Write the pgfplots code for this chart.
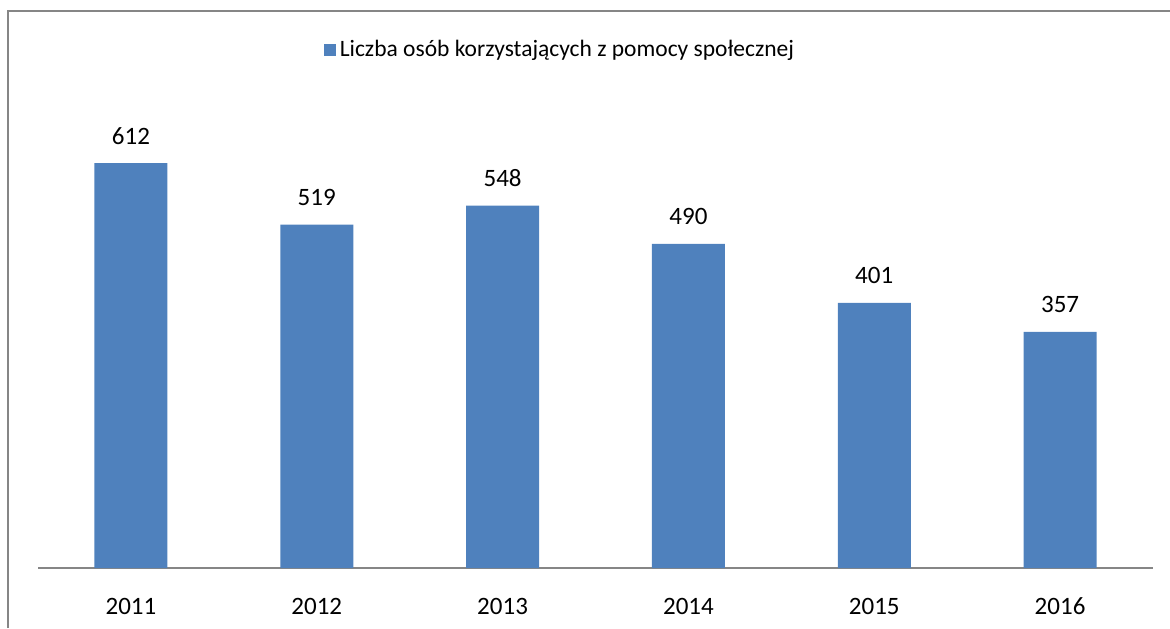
\documentclass[border=0pt]{standalone}
\usepackage{fontspec}
\setmainfont{Carlito}
\usepackage{pgfplots}
\pgfplotsset{compat=1.18}
\definecolor{barblue}{HTML}{4F81BD}
\definecolor{axgray}{HTML}{868686}
\begin{document}
\begin{tikzpicture}
\useasboundingbox (-19pt,-30pt) rectangle (566pt,284pt);
\draw[axgray, line width=1pt] (-15pt,-30pt) -- (-15pt,278.5pt) -- (566pt,278.5pt);
\begin{axis}[
  at={(0pt,0pt)}, anchor=south west,
  scale only axis,
  width=557.5pt, height=231.5pt,
  ybar, bar width=36.5pt,
  xmin=-0.5, xmax=5.5, ymin=0, ymax=700,
  xtick=data,
  xticklabels={2011,2012,2013,2014,2015,2016},
  axis y line=none,
  axis x line*=bottom,
  x axis line style={axgray, line width=0.8pt, -},
  xtick style={draw=none},
  xticklabel style={font=\fontsize{12.5}{15}\selectfont, anchor=base, yshift=-19pt},
  /pgf/number format/assume math mode=true,
  nodes near coords,
  nodes near coords style={font=\fontsize{12.5}{15}\selectfont, anchor=base, yshift=9.5pt, text=black},
  legend style={at={(0.469,1.119)}, anchor=center, draw=none, fill=none,
    font=\fontsize{11.75}{14}\selectfont, inner sep=0pt},
  legend image code/.code={\fill[barblue] (0pt,-3pt) rectangle (6pt,3pt);},
]
\addplot[fill=barblue, draw=none] coordinates {(0,612) (1,519) (2,548) (3,490) (4,401) (5,357)};
\addlegendentry{Liczba osób korzystających z pomocy społecznej}
\end{axis}
\end{tikzpicture}
\end{document}
